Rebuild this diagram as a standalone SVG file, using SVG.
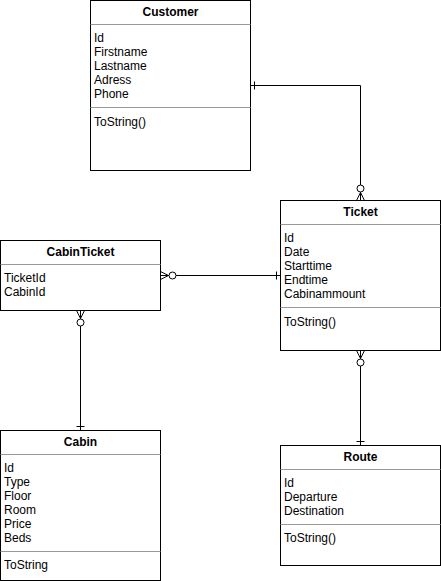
<svg xmlns="http://www.w3.org/2000/svg" width="441" height="581" viewBox="0 0 441 581">
<style>
.box{fill:#fff;stroke:#000;stroke-width:1}
.sep{stroke:#999;stroke-width:1}
.title{font-family:"Liberation Sans",Arial,sans-serif;font-size:12px;font-weight:bold;text-anchor:middle;fill:#000}
.attr{font-family:"Liberation Sans",Arial,sans-serif;font-size:12px;fill:#000}
.edge{fill:none;stroke:#000;stroke-width:1}
.circ{fill:#fff;stroke:#000;stroke-width:1}
</style>
<rect width="441" height="581" fill="#fff"/>
<g id="connectors">
  <!-- Customer -> Ticket -->
  <path class="edge" d="M250.5 85.5 H360.5 V200.5"/>
  <path class="edge" d="M254.5 81.5 V89.5"/>
  <path class="edge" d="M360.5 192.5 L356.5 200.5 M360.5 192.5 L364.5 200.5"/>
  <circle class="circ" cx="360.5" cy="188.5" r="3.5"/>
  <!-- CabinTicket -> Ticket -->
  <path class="edge" d="M160.5 275.5 H280.5"/>
  <path class="edge" d="M276.5 271.5 V279.5"/>
  <path class="edge" d="M160.5 271.5 L168.5 275.5 L160.5 279.5"/>
  <circle class="circ" cx="172.5" cy="275.5" r="3.5"/>
  <!-- CabinTicket -> Cabin -->
  <path class="edge" d="M80.5 310.5 V430.5"/>
  <path class="edge" d="M76.5 426.5 H84.5"/>
  <path class="edge" d="M76.5 310.5 L80.5 318.5 L84.5 310.5"/>
  <circle class="circ" cx="80.5" cy="322.5" r="3.5"/>
  <!-- Ticket -> Route -->
  <path class="edge" d="M360.5 350.5 V445.5"/>
  <path class="edge" d="M356.5 441.5 H364.5"/>
  <path class="edge" d="M356.5 350.5 L360.5 358.5 L364.5 350.5"/>
  <circle class="circ" cx="360.5" cy="362.5" r="3.5"/>
</g>
<g id="customer">
  <rect class="box" x="90.5" y="0.5" width="160" height="170"/>
  <text class="title" x="170.5" y="15.5">Customer</text>
  <line class="sep" x1="90.5" y1="24.5" x2="250.5" y2="24.5"/>
  <text class="attr" x="94" y="42">Id</text>
  <text class="attr" x="94" y="56">Firstname</text>
  <text class="attr" x="94" y="70">Lastname</text>
  <text class="attr" x="94" y="84">Adress</text>
  <text class="attr" x="94" y="98">Phone</text>
  <line class="sep" x1="90.5" y1="107.5" x2="250.5" y2="107.5"/>
  <text class="attr" x="94" y="125.5">ToString()</text>
</g>
<g id="ticket">
  <rect class="box" x="280.5" y="200.5" width="160" height="150"/>
  <text class="title" x="360.5" y="215.5">Ticket</text>
  <line class="sep" x1="280.5" y1="224.5" x2="440.5" y2="224.5"/>
  <text class="attr" x="284" y="242">Id</text>
  <text class="attr" x="284" y="256">Date</text>
  <text class="attr" x="284" y="270">Starttime</text>
  <text class="attr" x="284" y="284">Endtime</text>
  <text class="attr" x="284" y="298">Cabinammount</text>
  <line class="sep" x1="280.5" y1="307.5" x2="440.5" y2="307.5"/>
  <text class="attr" x="284" y="325.5">ToString()</text>
</g>
<g id="cabinticket">
  <rect class="box" x="0.5" y="240.5" width="160" height="70"/>
  <text class="title" x="80.5" y="255.5">CabinTicket</text>
  <line class="sep" x1="0.5" y1="264.5" x2="160.5" y2="264.5"/>
  <text class="attr" x="4" y="282">TicketId</text>
  <text class="attr" x="4" y="296">CabinId</text>
</g>
<g id="cabin">
  <rect class="box" x="0.5" y="430.5" width="160" height="150"/>
  <text class="title" x="80.5" y="445.5">Cabin</text>
  <line class="sep" x1="0.5" y1="454.5" x2="160.5" y2="454.5"/>
  <text class="attr" x="4" y="472">Id</text>
  <text class="attr" x="4" y="486">Type</text>
  <text class="attr" x="4" y="500">Floor</text>
  <text class="attr" x="4" y="514">Room</text>
  <text class="attr" x="4" y="528">Price</text>
  <text class="attr" x="4" y="542">Beds</text>
  <line class="sep" x1="0.5" y1="551.5" x2="160.5" y2="551.5"/>
  <text class="attr" x="4" y="569">ToString</text>
</g>
<g id="route">
  <rect class="box" x="280.5" y="445.5" width="160" height="120"/>
  <text class="title" x="360.5" y="460.5">Route</text>
  <line class="sep" x1="280.5" y1="469.5" x2="440.5" y2="469.5"/>
  <text class="attr" x="284" y="487">Id</text>
  <text class="attr" x="284" y="501">Departure</text>
  <text class="attr" x="284" y="515">Destination</text>
  <line class="sep" x1="280.5" y1="524.5" x2="440.5" y2="524.5"/>
  <text class="attr" x="284" y="542">ToString()</text>
</g>
</svg>
